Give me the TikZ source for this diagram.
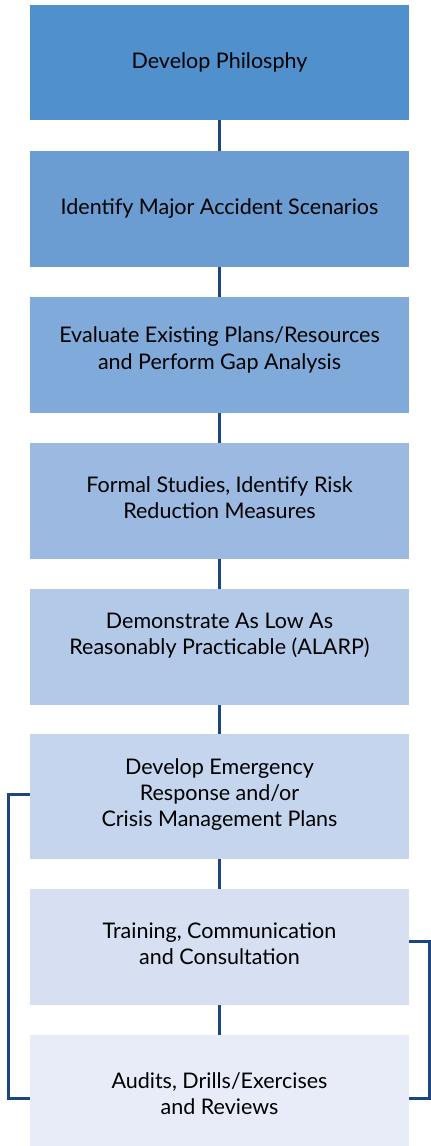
\documentclass[tikz,border=0pt]{standalone}
\usepackage{fontspec}
\setmainfont{Lato}
\definecolor{c1}{RGB}{80,144,205}
\definecolor{c2}{RGB}{107,157,211}
\definecolor{c3}{RGB}{128,170,217}
\definecolor{c4}{RGB}{156,185,225}
\definecolor{c5}{RGB}{179,201,232}
\definecolor{c6}{RGB}{196,213,237}
\definecolor{c7}{RGB}{214,224,242}
\definecolor{c8}{RGB}{231,236,248}
\definecolor{linec}{RGB}{28,70,128}
\begin{document}
\begin{tikzpicture}[x=1pt,y=-1pt,
  box/.style={draw=none, minimum width=379pt, inner sep=0pt, anchor=north west},
  lbl/.style={anchor=base, inner sep=0pt, font=\fontsize{21.5}{26.3}\selectfont},
  conn/.style={draw=linec, line width=2.7pt}]
\useasboundingbox (0,0) rectangle (431,1146);
\node[box, fill=c1, minimum height=115pt] (b1) at (30,5) {};
\node[box, fill=c2, minimum height=116pt] (b2) at (30,151) {};
\node[box, fill=c3, minimum height=116pt] (b3) at (30,297) {};
\node[box, fill=c4, minimum height=116pt] (b4) at (30,443) {};
\node[box, fill=c5, minimum height=116pt] (b5) at (30,589) {};
\node[box, fill=c6, minimum height=125pt] (b6) at (30,734) {};
\node[box, fill=c7, minimum height=116pt] (b7) at (30,889) {};
\node[box, fill=c8, minimum height=111pt] (b8) at (30,1035) {};
\node[lbl] (t1) at (219.5,68.3) {\begin{tabular}[t]{@{}c@{}}Develop Philosphy\end{tabular}};
\node[lbl] (t2) at (219.5,214.3) {\begin{tabular}[t]{@{}c@{}}Identify Major Accident Scenarios\end{tabular}};
\node[lbl] (t3) at (219.5,342.7) {\begin{tabular}[t]{@{}c@{}}Evaluate Existing Plans/Resources\\and Perform Gap Analysis\end{tabular}};
\node[lbl] (t4) at (219.5,492.5) {\begin{tabular}[t]{@{}c@{}}Formal Studies, Identify Risk\\Reduction Measures\end{tabular}};
\node[lbl] (t5) at (219.5,628.3) {\begin{tabular}[t]{@{}c@{}}Demonstrate As Low As\\Reasonably Practicable (ALARP)\end{tabular}};
\node[lbl] (t6) at (219.5,774) {\begin{tabular}[t]{@{}c@{}}Develop Emergency\\Response and/or\\Crisis Management Plans\end{tabular}};
\node[lbl] (t7) at (219.5,938.3) {\begin{tabular}[t]{@{}c@{}}Training, Communication\\and Consultation\end{tabular}};
\node[lbl] (t8) at (219.5,1088.3) {\begin{tabular}[t]{@{}c@{}}Audits, Drills/Exercises\\and Reviews\end{tabular}};
\draw[conn] (b1.south) -- (b2.north);
\draw[conn] (b2.south) -- (b3.north);
\draw[conn] (b3.south) -- (b4.north);
\draw[conn] (b4.south) -- (b5.north);
\draw[conn] (b5.south) -- (b6.north);
\draw[conn] (b6.south) -- (b7.north);
\draw[conn] (b7.south) -- (b8.north);
\draw[conn] ([yshift=2.2pt]b6.west) -- ++(-21.5,0) |- ([yshift=-7.5pt]b8.west);
\draw[conn] ([yshift=6pt]b7.east) -- ++(20,0) |- ([yshift=-7.5pt]b8.east);
\end{tikzpicture}
\end{document}
